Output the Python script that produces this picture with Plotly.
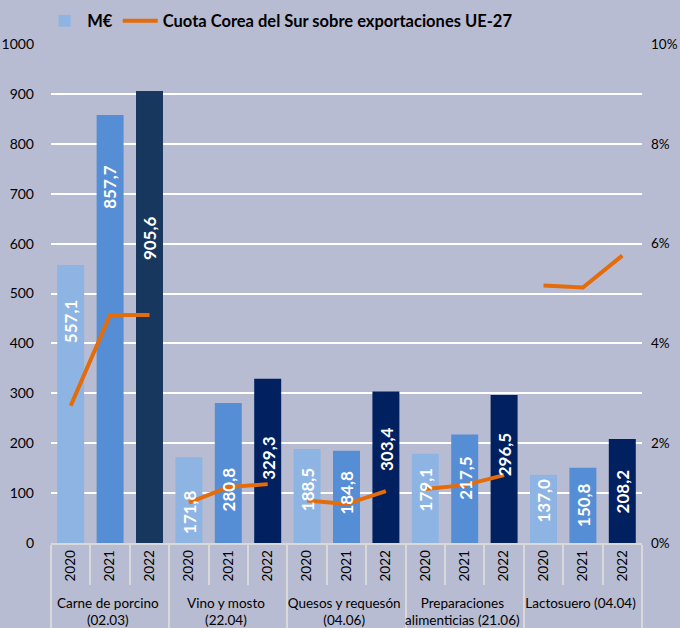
import plotly.graph_objects as go

groups = ["Carne de porcino<br>(02.03)", "Vino y mosto<br>(22.04)", "Quesos y requesón<br>(04.06)",
          "Preparaciones<br>alimenticias (21.06)", "Lactosuero (04.04)"]
years = ["2020", "2021", "2022"]

values = [557.1, 857.7, 905.6,
          171.8, 280.8, 329.3,
          188.5, 184.8, 303.4,
          179.1, 217.5, 296.5,
          137.0, 150.8, 208.2]

share_pct = [2.75, 4.57, 4.57,
             0.81, 1.12, 1.18,
             0.85, 0.78, 1.04,
             1.08, 1.16, 1.36,
             5.16, 5.12, 5.76]

# where each value label is centred (M€ units)
label_at = [444, 714, 610,
            62, 108, 170,
            106, 100, 188,
            106, 130, 176,
            84, 76, 104]

value_text = [f"{v:.1f}".replace(".", ",") for v in values]

x_group = [g for g in groups for _ in years]
x_year = [y for _ in groups for y in years]

colors = []
for gi in range(len(groups)):
    colors += ["#8EB4E3", "#558ED5", "#17375E" if gi == 0 else "#002060"]

FONT = "Lato"
fig = go.Figure()
fig.add_trace(go.Bar(x=[x_group, x_year], y=values, name="M€",
                     marker=dict(color=colors, line=dict(width=0)),
                     hoverinfo="skip"))

for gi in range(len(groups)):
    sl = slice(gi * 3, gi * 3 + 3)
    fig.add_trace(go.Scatter(x=[x_group[sl], x_year[sl]], y=[s / 100 for s in share_pct[sl]],
                             mode="lines", yaxis="y2",
                             name="Cuota Corea del Sur sobre exportaciones UE-27",
                             legendgroup="share", showlegend=(gi == 0),
                             line=dict(color="#E46C0A", width=4)))

for i, (t, ly) in enumerate(zip(value_text, label_at)):
    fig.add_annotation(x=i, y=ly, xref="x", yref="y", text=f"<b>{t}</b>",
                       textangle=-90, showarrow=False,
                       font=dict(family=FONT, size=17, color="white"))

bg = "#B8BCD2"
fig.update_layout(
    width=680, height=628,
    paper_bgcolor=bg, plot_bgcolor=bg,
    margin=dict(l=51, r=38, t=44, b=85, autoexpand=False),
    bargap=0.315,
    font=dict(family=FONT, size=14, color="black"),
    showlegend=True,
    legend=dict(orientation="h", x=-0.015, xanchor="left", y=1.046, yanchor="middle",
                font=dict(family=FONT, size=16.5, color="black", weight="bold"),
                bgcolor="rgba(0,0,0,0)", itemwidth=35),
    xaxis=dict(type="multicategory", showgrid=False, showline=True, linecolor="#D9D9D9",
               linewidth=1.5, ticks="outside", tickson="boundaries", ticklen=40,
               tickcolor="#D9D9D9", tickwidth=1.5, tickangle=-90,
               showdividers=True, dividercolor="#D9D9D9", dividerwidth=1.5,
               tickfont=dict(family=FONT, size=13.5, color="black"), automargin=False),
    yaxis=dict(range=[0, 1000], dtick=100, showgrid=True, gridcolor="white", gridwidth=1.5,
               zeroline=False, showline=False, ticks="", ticklabelstandoff=16,
               tickfont=dict(family=FONT, size=14, color="black"), automargin=False),
    yaxis2=dict(range=[0, 0.10], dtick=0.02, tickformat=".0%", overlaying="y", side="right",
                showgrid=False, zeroline=False, showline=False, ticks="", ticklabelstandoff=8,
                tickfont=dict(family=FONT, size=13.5, color="black"), automargin=False),
)

fig.write_html("out.html", config={"displayModeBar": False},
               post_script="document.body.style.margin='0px';")
